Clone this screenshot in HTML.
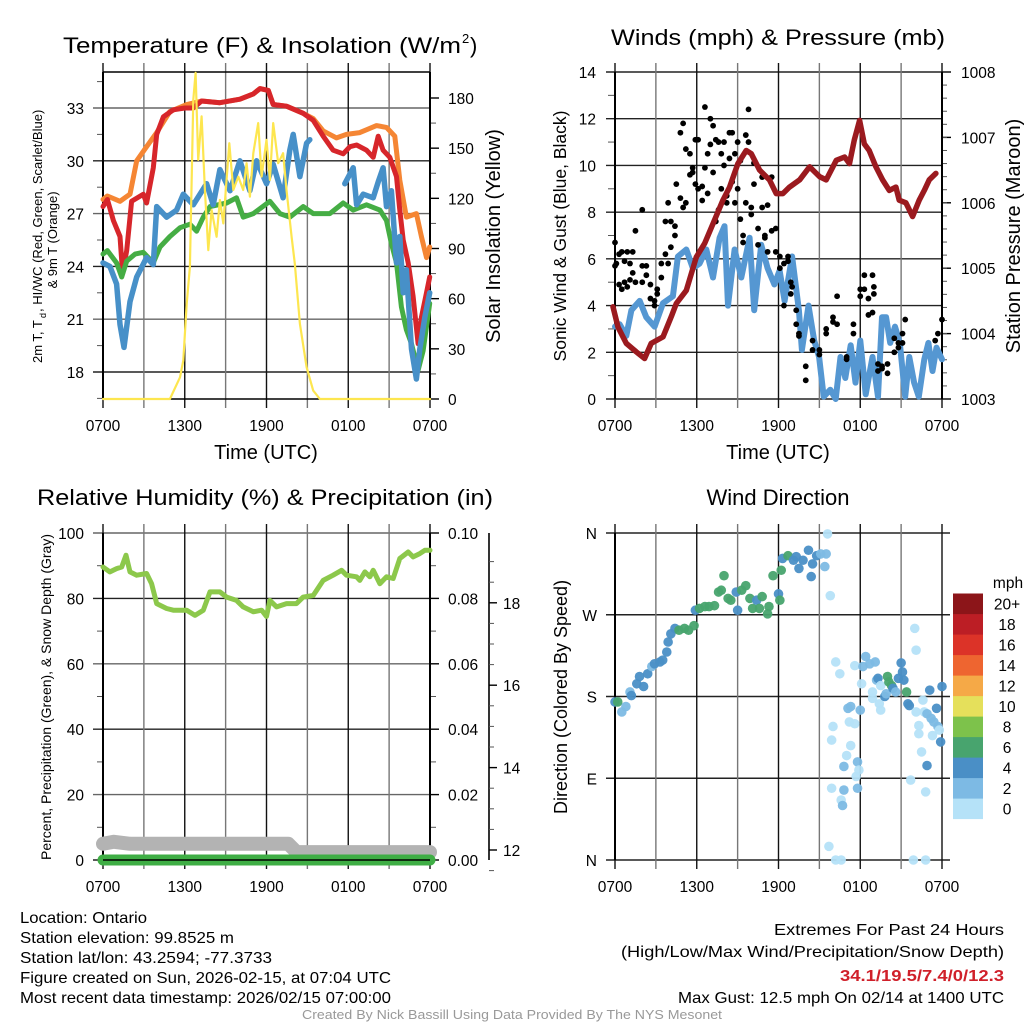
<!DOCTYPE html>
<html><head><meta charset="utf-8"><style>
html,body{margin:0;padding:0;background:#fff}
svg{display:block}
text{font-family:"Liberation Sans",sans-serif;fill:#000}
</style></head><body>
<svg id="c" width="1024" height="1024" viewBox="0 0 1024 1024"></svg>
<script>
// ===== Panel 1: temperature =====
const redH=[0,0.32,0.76,1.25,1.44,1.74,2.1,2.96,3.2,3.69,3.94,4.43,5.16,6.01,6.63,7.24,8.58,10.05,11.03,11.52,12.13,12.49,13.47,14.69,15.43,16.16,16.89,17.63,18.12,18.61,19.34,19.83,20.2,20.56,21.05,21.54,21.78,22.03,22.4,22.76,23.13,23.37,23.74,23.98];
const redV=[27.4,27.8,26.6,25.7,23.6,24.9,27.7,28.1,27.6,29.6,31.5,32.5,32.9,33,33,33.4,33.3,33.5,33.8,34.1,34,33.2,33.1,32.7,32.3,31.4,30.6,30.4,30.8,30.9,30.6,30.2,31.4,30.6,30.2,29.1,27.2,25.5,24.2,22.3,19.6,21.1,22.5,23.4];
const orgH=[0,0.32,1.25,1.98,2.47,3.2,3.94,4.91,6.14,7.24,8.58,10.05,11.03,11.52,12.13,12.49,13.47,14.69,15.43,16.16,17.14,17.87,18.85,20.07,20.81,21.42,21.78,22.27,23,23.37,23.74,23.98];
const orgV=[27.8,28,27.7,28.1,30,30.8,31.6,32.8,33.2,33.4,33.3,33.5,33.8,34.1,34,33.2,33.1,32.7,32.4,31.7,31.3,31.5,31.6,32,31.9,31.4,28.9,26.8,27,25.7,24.5,25.1];
const bluH=[0,0.51,1.0,1.25,1.54,1.98,2.47,3.2,3.69,3.94,4.67,5.4,5.89,6.63,7.6,8.09,8.58,9.32,10.05,10.78,11.27,12.0,12.49,13.22,13.71,13.96,14.45,14.94,15.18,15.5,17.75,18.36,18.61,19.1,19.83,20.2,20.56,20.81,21.17,21.54,21.78,22.03,22.27,22.64,23.0,23.25,23.62,23.98];
const bluV=[24.2,24,23,20.7,19.4,22,23.4,24.5,24.1,27.4,26.8,27.2,28.1,27.5,28.7,27.5,29.5,28.3,30,28.3,30,28.7,29.8,27.9,30.6,31.5,29.1,31,31.2,null,28.7,29.6,27.5,28.1,27.9,28.8,29.6,27.4,28.3,24.2,25.7,22.5,23.8,19.3,17.6,19.3,21.1,22.5];
const grnH=[0,0.32,1.0,1.37,1.74,2.35,2.96,3.69,4.18,4.91,5.65,6.38,6.87,7.36,7.85,9.07,9.8,10.29,11.03,12.25,12.98,13.71,14.69,15.43,16.65,17.63,18.36,19.34,20.32,20.81,21.17,21.54,21.9,22.27,22.64,23.13,23.49,23.98];
const grnV=[24.7,24.9,24.2,23.4,24.3,24.7,24.8,24.2,25.1,25.7,26.2,26.4,26,26.8,27.4,27.6,27.9,26.8,27,27.7,27,26.8,27.4,27,27,27.6,27.2,27.5,27.2,26.6,25.3,24.2,21.7,20.4,19.6,18.1,19.2,21.9];
const solH=[0,4.91,5.65,5.89,6.14,6.38,6.5,6.63,6.8,6.99,7.24,7.48,7.73,7.97,8.34,8.58,8.83,9.27,9.56,9.93,10.29,10.54,10.78,11.03,11.39,11.64,12.0,12.25,12.49,12.86,13.22,13.47,13.84,14.08,14.45,14.94,15.43,15.92,24];
const solV=[0,0,13,23,57,79,129,179,195,143,169,125,89,113,97,119,105,153,125,133,125,141,121,147,165,133,155,131,165,141,147,125,97,81,45,19,5,0,0];
const tTicks=[18,21,24,27,30,33];
const sTicks=[0,30,60,90,120,150,180];
const xLabels=["0700","1300","1900","0100","0700"];
// ===== Panel 2: winds =====
const presH=[-0.15,0.22,0.83,1.56,2.17,2.66,3.52,4.13,4.5,5.23,5.97,6.58,7.19,7.92,8.41,9.02,9.63,10.0,10.61,11.34,11.83,12.32,12.81,13.55,14.28,15.01,15.5,16.24,16.85,17.21,17.56,17.95,18.3,18.66,19.15,19.64,20.13,20.62,20.86,21.35,21.84,22.33,22.7,23.06,23.55];
const presV=[1004.41,1004.1,1003.85,1003.72,1003.62,1003.85,1003.95,1004.26,1004.46,1004.66,1005.17,1005.38,1005.68,1006.04,1006.24,1006.6,1006.8,1006.75,1006.5,1006.35,1006.14,1006.14,1006.24,1006.35,1006.55,1006.4,1006.35,1006.65,1006.7,1006.6,1006.96,1007.26,1006.9,1006.8,1006.55,1006.35,1006.19,1006.24,1006.04,1006.0,1005.79,1006.04,1006.19,1006.35,1006.45];
const windH=[0,0.34,0.83,1.2,1.81,2.3,2.91,3.52,4.25,4.62,5.23,5.72,6.21,6.7,7.19,7.68,8.04,8.29,8.78,9.27,9.88,10.22,10.73,11.2,11.7,12.08,12.45,13.0,13.5,13.72,14.2,14.62,14.98,15.32,15.8,16.2,16.55,16.9,17.3,17.65,18.0,18.4,18.9,19.3,19.6,19.9,20.2,20.55,20.9,21.3,21.6,21.95,22.3,22.7,23.0,23.3,23.6,24];
const windV=[3.1,3.2,2.7,3.8,4.2,3.5,3.1,4.1,4.4,6.1,6.4,5.6,5.8,6.4,5.2,6.9,7.4,4.0,6.4,5.2,6.9,3.8,6.6,5.6,4.9,5.5,4.2,6.1,3.8,2.1,4.0,2.5,1.8,0.1,0.4,0,1.8,0.9,2.3,0.7,2.5,0.2,1.8,0.1,3.5,3.5,2.4,3.1,2.4,0.1,1.8,0.7,0.1,1.7,2.4,1.2,2.2,1.7];
const gustH=[0,0,0.1,0.3,0.3,0.5,0.5,0.7,0.7,0.9,0.9,1.1,1.1,1.3,1.3,1.5,1.5,2.0,2.0,2.0,2.3,2.3,2.6,2.6,2.9,2.9,3.1,3.1,3.4,3.4,3.7,3.7,3.9,3.9,4.1,4.1,4.4,4.4,4.5,4.8,4.8,5.0,5.0,5.2,5.2,5.5,5.5,5.7,5.7,5.9,5.9,6.1,6.1,6.4,6.4,6.6,6.6,6.8,6.8,7.0,7.0,7.2,7.2,7.4,7.4,7.6,7.6,7.8,7.8,8.0,8.0,8.2,8.2,8.4,8.4,8.6,8.6,8.8,8.8,9.0,9.0,9.2,9.2,9.4,9.4,9.6,9.6,9.8,9.8,10.0,10.0,10.2,10.2,10.5,10.5,10.8,10.8,11.0,11.0,11.2,11.2,11.5,11.5,11.8,11.8,12.1,12.1,12.4,12.4,12.7,12.7,12.9,12.9,13.0,13.3,13.3,13.5,13.5,14.0,14.0,14.5,14.5,15.0,15.0,15.5,15.5,16.0,16.0,16.3,16.3,17.0,17.0,17.5,17.5,18.0,18.0,18.3,18.3,18.6,18.6,18.9,18.9,19.0,19.0,19.3,19.3,19.6,19.6,20.0,20.0,20.5,20.5,20.8,20.8,21.1,21.1,21.3,23.5,23.7,24];
const gustV=[5.7,6.7,5.8,6.2,4.9,6.3,4.7,5.0,5.9,6.3,4.8,5.8,5.1,5.4,6.3,5.0,7.2,8.1,5.7,5.0,5.7,5.3,4.9,4.3,4.0,4.2,4.5,4.7,5.8,5.2,6.2,7.6,8.4,5.8,7.6,6.5,7.0,7.4,9.2,8.6,11.4,8.2,11.8,8.4,10.7,9.6,10.5,9.9,9.7,9.2,11.1,9.0,11.1,9.1,8.5,9.9,12.5,10.5,8.8,10.9,12.0,11.7,9.7,11.1,7.6,8.1,11.0,10.5,9.0,10.0,11.0,8.4,8.7,11.4,10.3,9.3,11.4,10.5,8.4,11.0,9.0,7.7,10.2,7.0,6.7,8.4,11.3,12.4,11.0,7.9,8.2,10.1,9.2,6.6,7.3,9.5,8.2,7.0,6.9,6.3,8.3,9.5,7.2,7.3,6.3,5.6,6.1,5.8,4.0,5.9,6.1,5.0,4.5,4.8,3.8,3.2,2.8,2.7,1.4,0.8,2.5,2.1,2.1,1.9,2.8,3.0,3.5,3.3,4.4,3.2,1.7,1.8,3.2,2.8,4.4,4.7,4.7,5.3,3.6,4.3,5.3,3.7,4.8,4.5,1.2,1.5,1.4,1.3,1.1,1.5,2.0,2.6,2.2,2.4,2.8,2.4,3.4,2.5,2.8,3.4];
const wTicks=[0,2,4,6,8,10,12,14];
const pTicks=[1003,1004,1005,1006,1007,1008];
// ===== Panel 3: RH =====
const rhH=[0,0.51,1.0,1.37,1.69,1.98,2.47,3.2,3.57,3.94,4.67,5.16,6.14,6.75,7.36,7.85,8.58,9.07,9.8,10.29,11.03,11.64,12.0,12.25,12.74,13.47,14.2,14.69,15.43,16.16,16.89,17.51,17.87,18.61,18.85,19.22,19.59,19.83,20.32,20.81,21.3,21.78,22.4,22.76,23.25,23.62,24];
const rhV=[89.6,88.1,89.1,89.6,93.2,88.1,87.1,87.6,84.5,78.4,76.9,76.4,76.4,74.8,76.4,82,82,80.4,79.4,77.4,75.9,76.4,74.5,79.4,77.4,78.4,78.4,80.4,80.9,85.5,87.1,88.6,87.1,86.6,85.5,88.1,86.6,88.6,84.5,86.6,86.1,92.2,94.2,92.7,93.7,94.7,94.7];
const snowH=[0,0.8,2.0,13.6,14.2,24];
const snowV=[12.15,12.2,12.15,12.15,11.95,11.95];
const prH=[0,24];
const prV=[0,0];
const rhTicks=[0,20,40,60,80,100];
const prTicks=["0.00","0.02","0.04","0.06","0.08","0.10"];
const snTicks=[12,14,16,18];
// ===== Panel 4: direction =====
const dirH=[0,0.2,0.5,0.8,1.1,1.2,1.6,1.8,2.1,2.4,2.7,2.9,3.3,3.5,3.8,3.9,4.1,4.4,4.7,5.1,5.4,5.8,5.9,6.2,6.6,6.9,7.3,7.6,7.8,8.0,8.3,8.5,8.9,9.0,9.3,9.6,9.9,10.1,10.4,10.6,10.8,11.2,11.3,11.6,12.0,12.1,12.2,12.3,12.7,13.1,13.3,13.5,13.8,14.2,14.4,14.5,14.8,15.1,15.4,15.5,15.6,15.8,16.2,16.5,16.0,15.9,15.9,15.7,16.2,16.6,16.6,16.7,16.8,16.8,17.0,17.1,17.3,17.2,17.3,17.6,17.6,17.7,17.8,17.8,17.9,18.0,18.1,18.2,18.4,18.7,18.9,18.9,19.1,19.2,19.3,19.4,19.5,19.5,19.8,19.9,20.0,20.1,20.3,20.4,20.6,20.8,21.0,21.1,21.2,21.4,21.5,21.6,21.7,21.9,22.0,22.1,22.1,22.3,22.3,22.5,22.6,22.7,22.8,22.8,22.9,22.9,23.1,23.2,23.3,23.4,23.6,23.7,23.8,23.9,24];
const dirD=[174,174,163,169,185,181,194,202,191,205,213,216,218,220,229,240,249,255,253,255,253,258,275,277,279,279,280,295,297,313,288,286,295,275,297,302,288,277,286,277,290,271,279,313,293,286,319,332,335,330,334,321,330,341,312,326,335,337,323,337,359,291,218,205,147,132,79,15,0,0,66,60,77,103,115,167,169,152,126,150,214,92,79,108,99,165,194,213,224,216,178,185,218,198,200,172,165,192,180,183,202,196,192,189,185,200,217,207,198,185,172,170,88,0,255,231,163,148,139,119,176,163,0,75,104,161,187,156,137,152,167,147,143,130,191];
const dirS=[2,3,1,1,1,2,2,2,2,2,1,2,2,2,2,2,2,2,3,3,3,3,2,3,3,3,3,3,3,3,3,3,2,2,3,3,3,3,2,3,3,3,3,3,2,3,3,2,3,2,2,2,2,2,2,2,2,1,1,1,0,0,0,0,0,0,0,0,0,0,0,1,1,1,0,1,1,0,0,0,0,0,1,1,0,1,0,1,1,1,0,0,1,1,2,0,0,0,2,1,3,3,3,2,1,2,2,2,2,3,2,2,0,0,0,0,0,0,0,0,0,0,0,0,2,1,2,1,0,1,2,1,0,2,2];
const dirLabels=["N","E","S","W","N"];
const cbLabels=["0","2","4","6","8","10","12","14","16","18","20+"];
const cbColors=["#b5e2f8","#7dbae4","#4a8fc6","#48a46e","#7dc24b","#e5e05b","#f5a947","#ee6530","#dc3328","#bc1e25","#8c1519"];

// ===== rendering =====
const NS="http://www.w3.org/2000/svg";
const svg=document.getElementById('c');
function mk(tag,attrs,parent){const e=document.createElementNS(NS,tag);for(const k in attrs)e.setAttribute(k,attrs[k]);(parent||svg).appendChild(e);return e;}
function txt(s,x,y,size,anchor,parent,extra){const e=mk('text',Object.assign({x:x,y:y,'font-size':size,'text-anchor':anchor||'start'},extra||{}),parent);e.textContent=s;return e;}
const x1=h=>103+h*13.625, x2=h=>615+h*13.625;
const yT=v=>372-(v-18)*17.6, yS=v=>399-v*(301/180);
const yW=v=>399-v*(327/14), yP=v=>399-(v-1003)*65.4;
const yRH=v=>860-v*3.27, yPr=v=>860-v*3270, ySn=v=>850-(v-12)*41.2;
const yD=d=>860-d*327/360;

function frame(g,xf,top,bot){
  for(let i=0;i<=8;i++){const x=xf(i*3);
    const l=mk('line',{x1:x,x2:x,y1:top-9,y2:bot+9,stroke:i%2?'#777':'#111','stroke-width':1.4},g);
    }
  for(let i=0;i<5;i++){const t=txt(xLabels[i],xf(i*6),bot+32,15.5,'middle',g);
    }
}
function hline(g,y,xa,xb,c){const l=mk('line',{x1:xa,x2:xb,y1:y,y2:y,stroke:c||'#222','stroke-width':1.4},g);}
function path(g,H,V,xf,yf,color,w,name){
  let d='',pen=false;
  for(let i=0;i<H.length;i++){if(V[i]===null){pen=false;continue;}d+=(pen?'L':'M')+xf(H[i]).toFixed(1)+','+yf(V[i]).toFixed(1);pen=true;}
  const p=mk('path',{d:d,fill:'none',stroke:color,'stroke-width':w,'stroke-linejoin':'round','stroke-linecap':'round'},g);
  return p;
}

// Panel 1
const g1=mk('g',{});
txt('Temperature (F) & Insolation (W/m',63,53,22,'start',g1,{textLength:398,lengthAdjust:'spacingAndGlyphs'});
txt('2',462,43,13,'start',g1);txt(')',470,53,22,'start',g1);
tTicks.forEach(v=>{hline(g1,yT(v),93,430,v%6==0?'#222':'#666');const t=txt(String(v),84,yT(v)+6,15.5,'end',g1);});
for(let v=16.5;v<35;v+=1.5){if(!tTicks.includes(v))mk('line',{x1:97,x2:103,y1:yT(v),y2:yT(v),stroke:'#555','stroke-width':1},g1);}
sTicks.forEach(v=>{mk('line',{x1:430,x2:439,y1:yS(v),y2:yS(v),stroke:'#000','stroke-width':1.4},g1);const t=txt(String(v),448,yS(v)+6,15.5,'start',g1);});
for(let v=15;v<190;v+=30)mk('line',{x1:430,x2:436,y1:yS(v),y2:yS(v),stroke:'#555','stroke-width':1},g1);
frame(g1,x1,72,399);
mk('line',{x1:103,x2:430,y1:399,y2:399,stroke:'#000','stroke-width':1.6},g1);
mk('line',{x1:103,x2:103,y1:72,y2:399,stroke:'#000','stroke-width':2},g1);
mk('line',{x1:430,x2:430,y1:72,y2:399,stroke:'#000','stroke-width':2},g1);
mk('line',{x1:103,x2:430,y1:72,y2:72,stroke:'#000','stroke-width':1.4},g1);
path(g1,orgH,orgV,x1,yT,'#f58634',5,'orange-9m-temp-line');
path(g1,redH,redV,x1,yT,'#d7262b',5,'red-2m-temp-line');
path(g1,grnH,grnV,x1,yT,'#45ad44',5,'green-dewpoint-line');
path(g1,bluH,bluV,x1,yT,'#4790c8',5.5,'blue-windchill-line');
path(g1,solH,solV,x1,yS,'#fde64f',2.2,'yellow-insolation-line');
txt('Time (UTC)',266,459,20,'middle',g1);
txt('2m T, T',0,0,13,'start',g1,{transform:'translate(42,363) rotate(-90)'});
txt('d',0,0,9,'start',g1,{transform:'translate(46,318) rotate(-90)'});
txt(', HI/WC (Red, Green, Scarlet/Blue)',0,0,13,'start',g1,{transform:'translate(42,312) rotate(-90)'});
txt('& 9m T (Orange)',0,0,13,'middle',g1,{transform:'translate(57,240) rotate(-90)'});
txt('Solar Insolation (Yellow)',0,0,20,'middle',g1,{transform:'translate(500,236) rotate(-90)'});

// Panel 2
const g2=mk('g',{});
txt('Winds (mph) & Pressure (mb)',778,45,22,'middle',g2,{textLength:334,lengthAdjust:'spacingAndGlyphs'});
wTicks.forEach(v=>{hline(g2,yW(v),606,942,'#222');const t=txt(String(v),596,yW(v)+6,15.5,'end',g2);});
for(let v=1;v<14;v+=2)mk('line',{x1:608,x2:615,y1:yW(v),y2:yW(v),stroke:'#555','stroke-width':1},g2);
pTicks.forEach(v=>{mk('line',{x1:942,x2:951,y1:yP(v),y2:yP(v),stroke:'#000','stroke-width':1.4},g2);const t=txt(String(v),961,yP(v)+6,15.5,'start',g2);});
for(let v=1003.2;v<1008;v+=0.2)mk('line',{x1:942,x2:947,y1:yP(v),y2:yP(v),stroke:'#555','stroke-width':1},g2);
frame(g2,x2,72,399);
mk('line',{x1:615,x2:615,y1:72,y2:399,stroke:'#000','stroke-width':2},g2);
mk('line',{x1:942,x2:942,y1:72,y2:399,stroke:'#000','stroke-width':2},g2);
path(g2,windH,windV,x2,yW,'#5597d2',6,'sonic-wind-line');
gustH.forEach((h,i)=>{const c=mk('circle',{cx:x2(h),cy:yW(gustV[i]),r:2.9,fill:'#000'},g2);
  });
path(g2,presH,presV,x2,yP,'#9b1a1f',5.5,'pressure-line');
txt('Time (UTC)',778,459,20,'middle',g2);
txt('Sonic Wind & Gust (Blue, Black)',0,0,17.5,'middle',g2,{transform:'translate(566,236) rotate(-90)'});
txt('Station Pressure (Maroon)',0,0,20,'middle',g2,{transform:'translate(1020,236) rotate(-90)'});

// Panel 3
const g3=mk('g',{});
txt('Relative Humidity (%) & Precipitation (in)',37,505,22,'start',g3,{textLength:456,lengthAdjust:'spacingAndGlyphs'});
rhTicks.forEach((v,i)=>{hline(g3,yRH(v),93,430,i%2?'#666':'#222');
  const t=txt(String(v),84,yRH(v)+6,15.5,'end',g3);
  mk('line',{x1:430,x2:439,y1:yRH(v),y2:yRH(v),stroke:'#000','stroke-width':1.4},g3);
  const t2=txt(prTicks[i],448,yRH(v)+6,15.5,'start',g3);});
for(let v=10;v<100;v+=20){mk('line',{x1:97,x2:103,y1:yRH(v),y2:yRH(v),stroke:'#555','stroke-width':1},g3);mk('line',{x1:430,x2:436,y1:yRH(v),y2:yRH(v),stroke:'#555','stroke-width':1},g3);}
mk('line',{x1:489,x2:489,y1:533,y2:860,stroke:'#000','stroke-width':1.6},g3);
snTicks.forEach(v=>{mk('line',{x1:489,x2:497,y1:ySn(v),y2:ySn(v),stroke:'#000','stroke-width':1.4},g3);const t=txt(String(v),503,ySn(v)+6,15.5,'start',g3);});
for(let v=11.5;v<19.5;v+=0.5){if(v%2)mk('line',{x1:489,x2:494,y1:ySn(v),y2:ySn(v),stroke:'#555','stroke-width':1},g3);}
frame(g3,x1,533,860);
mk('line',{x1:103,x2:103,y1:533,y2:860,stroke:'#000','stroke-width':2},g3);
mk('line',{x1:430,x2:430,y1:533,y2:860,stroke:'#000','stroke-width':2},g3);
path(g3,snowH,snowV,x1,ySn,'#b3b3b3',14,'snow-depth-line');
path(g3,prH,prV,x1,yPr,'#3fae45',11,'precip-line');
mk('line',{x1:103,x2:430,y1:860,y2:860,stroke:'#000','stroke-width':1.6},g3);
path(g3,rhH,rhV,x1,yRH,'#8cc84b',5,'rh-line');
txt('Percent, Precipitation (Green), & Snow Depth (Gray)',0,0,14,'middle',g3,{transform:'translate(51,697) rotate(-90)'});

// Panel 4
const g4=mk('g',{});
txt('Wind Direction',778,505,22,'middle',g4);
dirLabels.forEach((s,i)=>{hline(g4,yD(i*90),606,950,'#222');const t=txt(s,597,yD(i*90)+6,15.5,'end',g4);});
frame(g4,x2,533,860);
mk('line',{x1:615,x2:615,y1:533,y2:860,stroke:'#000','stroke-width':2},g4);
dirH.forEach((h,i)=>{const c=mk('circle',{cx:x2(h),cy:yD(dirD[i]),r:4.8,fill:cbColors[dirS[i]],'fill-opacity':0.95},g4);
  });
txt('Direction (Colored By Speed)',0,0,18,'middle',g4,{transform:'translate(567,697) rotate(-90)'});
txt('mph',1008,588,15.5,'middle',g4);
cbLabels.forEach((s,i)=>{const y=819-(i+1)*20.5;
  const r=mk('rect',{x:953,y:y,width:30,height:20.6,fill:cbColors[i]},g4);
  const t=txt(s,1007,y+16,15.5,'middle',g4);});

// Footer
const gf=mk('g',{});
[['Location: Ontario',923,127],['Station elevation: 99.8525 m',943,214],['Station lat/lon: 43.2594; -77.3733',963,252],['Figure created on Sun, 2026-02-15, at 07:04 UTC',983,371],['Most recent data timestamp: 2026/02/15 07:00:00',1003,371]].forEach(a=>txt(a[0],20,a[1],16,'start',gf,{textLength:a[2],lengthAdjust:'spacingAndGlyphs'}));
txt('Extremes For Past 24 Hours',1004,935,16,'end',gf,{textLength:230,lengthAdjust:'spacingAndGlyphs'});
txt('(High/Low/Max Wind/Precipitation/Snow Depth)',1004,957,16,'end',gf,{textLength:383,lengthAdjust:'spacingAndGlyphs'});
txt('34.1/19.5/7.4/0/12.3',1004,981,16,'end',gf,{textLength:164,lengthAdjust:'spacingAndGlyphs','font-weight':'bold',style:'fill:#d0202a'});
txt('Max Gust: 12.5 mph On 02/14 at 1400 UTC',1004,1003,16,'end',gf,{textLength:326,lengthAdjust:'spacingAndGlyphs'});
txt('Created By Nick Bassill Using Data Provided By The NYS Mesonet',512,1019,12.5,'middle',gf,{textLength:420,lengthAdjust:'spacingAndGlyphs',style:'fill:#999'});
</script>
</body></html>
